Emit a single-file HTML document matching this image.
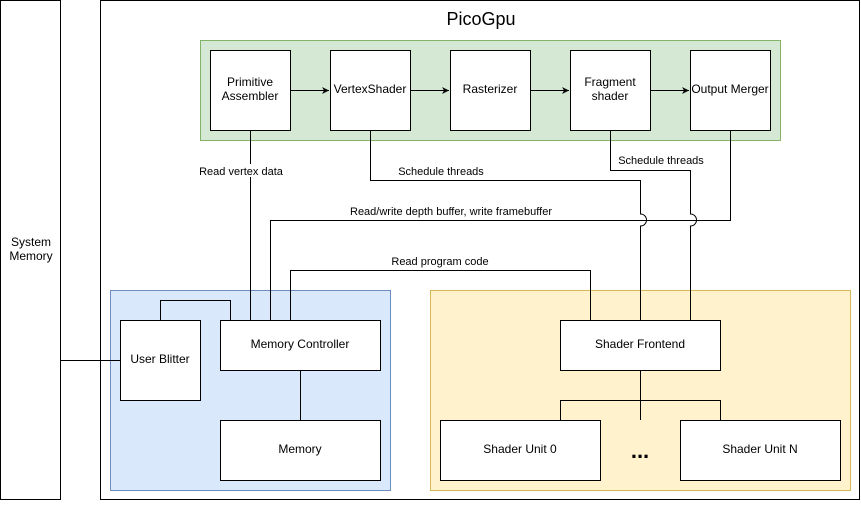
<!DOCTYPE html>
<html><head><style>body{margin:0;background:#fff}</style></head><body>
<svg width="861" height="501" xmlns="http://www.w3.org/2000/svg" font-family="Liberation Sans, sans-serif" font-size="12" text-anchor="middle">
<defs><marker id="a" markerWidth="8" markerHeight="8" refX="7" refY="4" orient="auto" markerUnits="userSpaceOnUse"><path d="M0,0.5 L7,4 L0,7.5 L2,4 Z" fill="#000"/></marker></defs>
<rect x="0.5" y="0.5" width="60" height="499" fill="#fff" stroke="#000"/>
<text x="31" y="246">System</text><text x="31" y="260">Memory</text>
<rect x="100.5" y="0.5" width="759" height="499" fill="#fff" stroke="#000"/>
<text x="481" y="25" font-size="18">PicoGpu</text>
<rect x="200.5" y="40.5" width="580" height="100" fill="#d5e8d4" stroke="#82b366"/>
<rect x="110.5" y="290.5" width="280" height="200" fill="#dae8fc" stroke="#6c8ebf"/>
<rect x="430.5" y="290.5" width="420" height="200" fill="#fff2cc" stroke="#d6b656"/>
<g fill="#fff" stroke="#000">
<rect x="210.5" y="50.5" width="80" height="80"/><rect x="330.5" y="50.5" width="80" height="80"/>
<rect x="450.5" y="50.5" width="80" height="80"/><rect x="570.5" y="50.5" width="80" height="80"/>
<rect x="690.5" y="50.5" width="80" height="80"/>
<rect x="120.5" y="320.5" width="80" height="80"/><rect x="220.5" y="320.5" width="160" height="50"/>
<rect x="220.5" y="420.5" width="160" height="60"/><rect x="560.5" y="320.5" width="160" height="50"/>
<rect x="440.5" y="420.5" width="160" height="60"/><rect x="680.5" y="420.5" width="160" height="60"/>
</g>
<g fill="none" stroke="#000">
<path d="M290 90.5H329" marker-end="url(#a)"/><path d="M410 90.5H449" marker-end="url(#a)"/>
<path d="M530 90.5H569" marker-end="url(#a)"/><path d="M650 90.5H689" marker-end="url(#a)"/>
<path d="M250.5 130V320"/>
<path d="M370.5 130V180.5H640.5V214a6 6 0 0 1 0 12V320"/>
<path d="M610.5 130V170.5H690.5V214a6 6 0 0 1 0 12V320"/>
<path d="M730.5 130V220.5H270.5V320"/>
<path d="M290.5 320V270.5H590.5V320"/>
<path d="M160.5 320V300.5H230.5V320"/>
<path d="M61 360.5H120"/>
<path d="M300.5 370V420"/>
<path d="M640.5 370V400.5M560.5 420V400.5H720.5V420M640.5 400V420"/>
</g>
<g font-size="11">
<rect x="198" y="164" width="88" height="13" fill="#fff"/><text x="241" y="175">Read vertex data</text>
<text x="441" y="175">Schedule threads</text><text x="661" y="164">Schedule threads</text>
<text x="451" y="215">Read/write depth buffer, write framebuffer</text>
<text x="440" y="265">Read program code</text>
</g>
<text x="250" y="86">Primitive</text><text x="250" y="100">Assembler</text>
<text x="370" y="93">VertexShader</text><text x="490" y="93">Rasterizer</text>
<text x="610" y="86">Fragment</text><text x="610" y="100">shader</text>
<text x="730" y="93">Output Merger</text>
<text x="160" y="363">User Blitter</text><text x="300" y="348">Memory Controller</text>
<text x="300" y="453">Memory</text><text x="640" y="348">Shader Frontend</text>
<text x="520" y="453">Shader Unit 0</text><text x="760" y="453">Shader Unit N</text>
<text x="640" y="458" font-size="22" font-weight="bold">...</text>
</svg>
</body></html>
